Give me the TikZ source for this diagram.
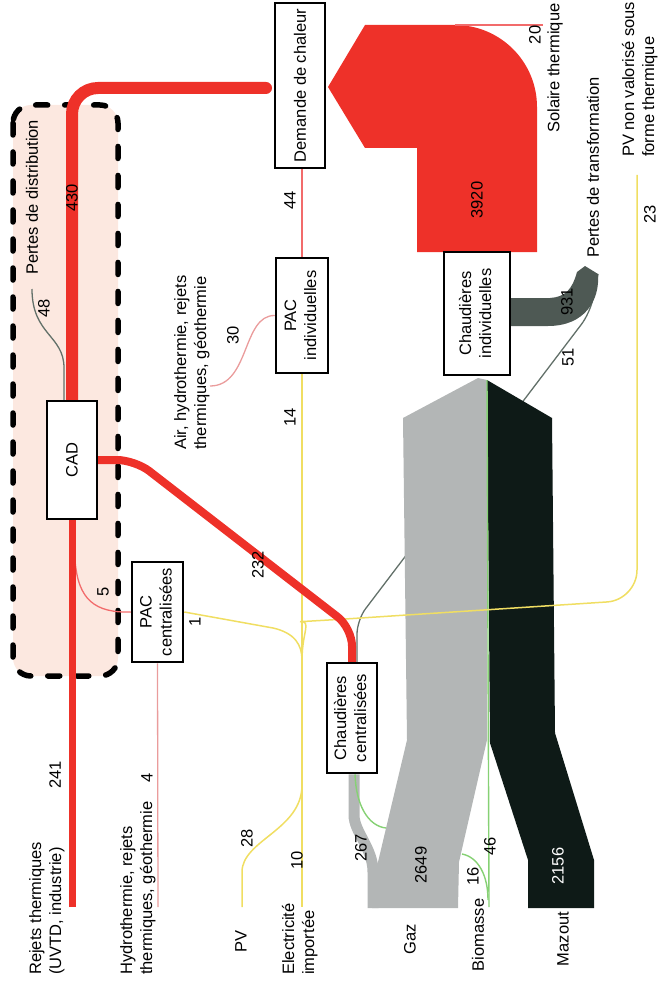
\documentclass[tikz,border=0pt]{standalone}
\usepackage{fontspec}
\setmainfont{Liberation Sans}
\newcommand{\fsz}{\fontsize{16.5}{20}\selectfont}
\newcommand{\two}[2]{\begin{tabular}{@{}c@{}}#1\\#2\end{tabular}}
\newcommand{\twol}[2]{\begin{tabular}{@{}l@{}}#1\\#2\end{tabular}}
\pgfdeclarelayer{back}
\pgfsetlayers{back,main}
\definecolor{rmain}{HTML}{EE3129}
\definecolor{rthin}{HTML}{F26B6B}
\definecolor{rpale}{HTML}{EA9C9C}
\definecolor{pinkbg}{HTML}{FCE8E0}
\definecolor{yel}{HTML}{F0DE62}
\definecolor{grn}{HTML}{86D174}
\definecolor{gaz}{HTML}{B3B6B6}
\definecolor{mazout}{HTML}{0E1A17}
\definecolor{loss}{HTML}{4E5954}
\definecolor{lossl}{HTML}{627069}
\tikzset{
  boxn/.style={draw=black, line width=2.5pt, fill=white, inner sep=0pt, font=\fsz},
  lbl/.style={rotate=90, inner sep=0pt, font=\fsz},
  yline/.style={draw=yel, line width=1.5pt},
  gline/.style={draw=grn, line width=1.4pt},
  thinred/.style={draw=rthin, line width=1.3pt},
  palered/.style={draw=rpale, line width=1.3pt},
  lossline/.style={draw=lossl, line width=1.3pt},
}
\begin{document}
\begin{tikzpicture}[x=1pt,y=-1pt]
\useasboundingbox (0,0) rectangle (659,992);
% boxes
\node[boxn, minimum width=50pt, minimum height=165pt] (dem) at (300,85.5) {\rotatebox{90}{Demande de chaleur}};
\node[boxn, minimum width=52pt, minimum height=115pt] (paci) at (302,315.5) {\rotatebox{90}{\two{PAC}{individuelles}}};
\node[boxn, minimum width=50pt, minimum height=118pt] (cad) at (72,460) {\rotatebox{90}{CAD}};
\node[boxn, minimum width=51pt, minimum height=100pt] (pacc) at (157.5,612) {\rotatebox{90}{\two{PAC}{centralisées}}};
\node[boxn, minimum width=50pt, minimum height=110pt] (chc) at (352,718) {\rotatebox{90}{\two{Chaudières}{centralisées}}};
\node[boxn, minimum width=66pt, minimum height=123pt] (chi) at (477,313.5) {\rotatebox{90}{\two{Chaudières}{individuelles}}};
% free ends
\coordinate (e430) at (266,88);
\coordinate (s241) at (72,907);
\coordinate (s4) at (158,907);
\coordinate (s28) at (242,907);
\coordinate (s10) at (302,907);
\coordinate (e30) at (210,386);
\coordinate (e48) at (32,289);
\coordinate (e23) at (637,175);
\coordinate (e20) at (543,25);
\coordinate (s46) at (489,907);
\coordinate (t931) at (598,274);
\coordinate (jn) at (302,660);

\begin{pgfonlayer}{back}
% CAD group
\draw[fill=pinkbg, line width=5.5pt, dash pattern=on 12pt off 17pt, line cap=round, rounded corners=18pt] (13,105) rectangle (118,676);
% 51 loss line (behind fuel bands)
\draw[lossline, rounded corners=14pt] ([xshift=5pt]chc.north) -- (357,620) -- (590,313) -- (t931);
% Gaz
\fill[gaz] (403,418) -- (478,378) -- (487,380) -- (487,740) -- (459,862) -- (458,908) -- (372,908) -- (374,872) -- (378,862) -- (407,740) -- cycle;
\draw[gaz, line width=11pt] ([xshift=2pt]chc.south) -- (354,815) .. controls (354,832) and (373,848) .. (373,872) -- (373,908);
% Mazout
\fill[mazout] (487,380) -- (552,418) -- (555,733) -- (594,860) -- (594,908) -- (528,908) -- (528,860) -- (490,743) -- cycle;
% Biomasse
\draw[gline] (s46) -- (487,380);
\draw[gline] (488,900) .. controls (488,875) and (478,857) .. (462,854);
\draw[gline] ([xshift=3pt]chc.south) .. controls (356,805) and (368,826) .. (386,828);
% yellow
\draw[yline] (paci.south) -- (s10);
\draw[yline] (s28) -- (242,872) .. controls (242,840) and (302,830) .. (302,785);
\draw[yline] (pacc.east) -- (273,628) .. controls (295,633) and (302,645) .. (jn);
\draw[yline, rounded corners=30pt] (jn) .. controls (302,632) and (312,621) .. (330,620) -- (637,600) -- (e23);
% thin red
\draw[thinred] (paci.north) -- (paci.north |- dem.south);
\draw[palered] (paci.west) .. controls (242,315) and (250,386) .. (e30);
\draw[thinred] (74,530) -- (75,560) .. controls (78,600) and (95,613) .. (pacc.west);
\draw[palered] (pacc.south) -- (s4);
% 48 loss
\draw[lossline] ([xshift=-8pt]cad.north) -- (64,368) .. controls (64,335) and (32,335) .. (e48);
% big red
\fill[rmain] (417,252) -- (417,148) -- (365,148) -- (328,87) -- (365,25) -- (455,25) .. controls (500.3,25) and (537,61.7) .. (537,107) -- (537,252) -- cycle;
\draw[thinred] (455,25) -- (e20);
% red thick
\draw[rmain, line width=12pt, rounded corners=26pt, line cap=round] (cad.north) |- (e430);
\draw[rmain, line width=8pt, rounded corners=18pt, line cap=round] (cad.east) -- (135,460) -- (352,628) -- (chc.north);
\draw[rmain, line width=7pt] (s241) -- (cad.south);
% 931 loss band
\fill[loss] (510,298) -- (550,298) .. controls (565,297) and (572,290) .. (577,272) -- (585,266) -- (t931) .. controls (600,300) and (585,326) .. (548,326) -- (510,326) -- cycle;
\end{pgfonlayer}

% numbers
\node[lbl] at (72,198) {430};
\node[lbl] at (290,200) {44};
\node[lbl] at (233,335) {30};
\node[lbl] at (290,417) {14};
\node[lbl] at (103,592) {5};
\node[lbl] at (195,622) {1};
\node[lbl] at (258,565) {232};
\node[lbl] at (44,308) {48};
\node[lbl] at (55,775) {241};
\node[lbl] at (147,778) {4};
\node[lbl] at (247,838) {28};
\node[lbl] at (297,860) {10};
\node[lbl] at (361,848) {267};
\node[lbl] at (421,865) {2649};
\node[lbl] at (490,846) {46};
\node[lbl] at (473,876) {16};
\node[lbl, text=white] at (558,866) {2156};
\node[lbl] at (477,200) {3920};
\node[lbl] at (535,35) {20};
\node[lbl] at (567,302) {931};
\node[lbl] at (568,357) {51};
\node[lbl] at (650,214) {23};
% names
\node[lbl, anchor=west] at (32,275) {Pertes de distribution};
\node[lbl, anchor=west] at (192,450) {\twol{Air, hydrothermie, rejets}{thermiques, géothermie}};
\node[lbl, anchor=west] at (593,258) {Pertes de transformation};
\node[lbl, anchor=west] at (555,133) {Solaire thermique};
\node[lbl, anchor=west] at (640,157) {\twol{PV non valorisé sous}{forme thermique}};
\node[lbl, anchor=west] at (47,975) {\twol{Rejets thermiques}{(UVTD, industrie)}};
\node[lbl, anchor=west] at (138,975) {\twol{Hydrothermie, rejets}{thermiques, géothermie}};
\node[lbl] at (241,941) {PV};
\node[lbl, anchor=west] at (300,975) {\twol{Electricité}{importée}};
\node[lbl] at (410,939) {Gaz};
\node[lbl] at (478,935) {Biomasse};
\node[lbl] at (563,939) {Mazout};
\end{tikzpicture}
\end{document}
